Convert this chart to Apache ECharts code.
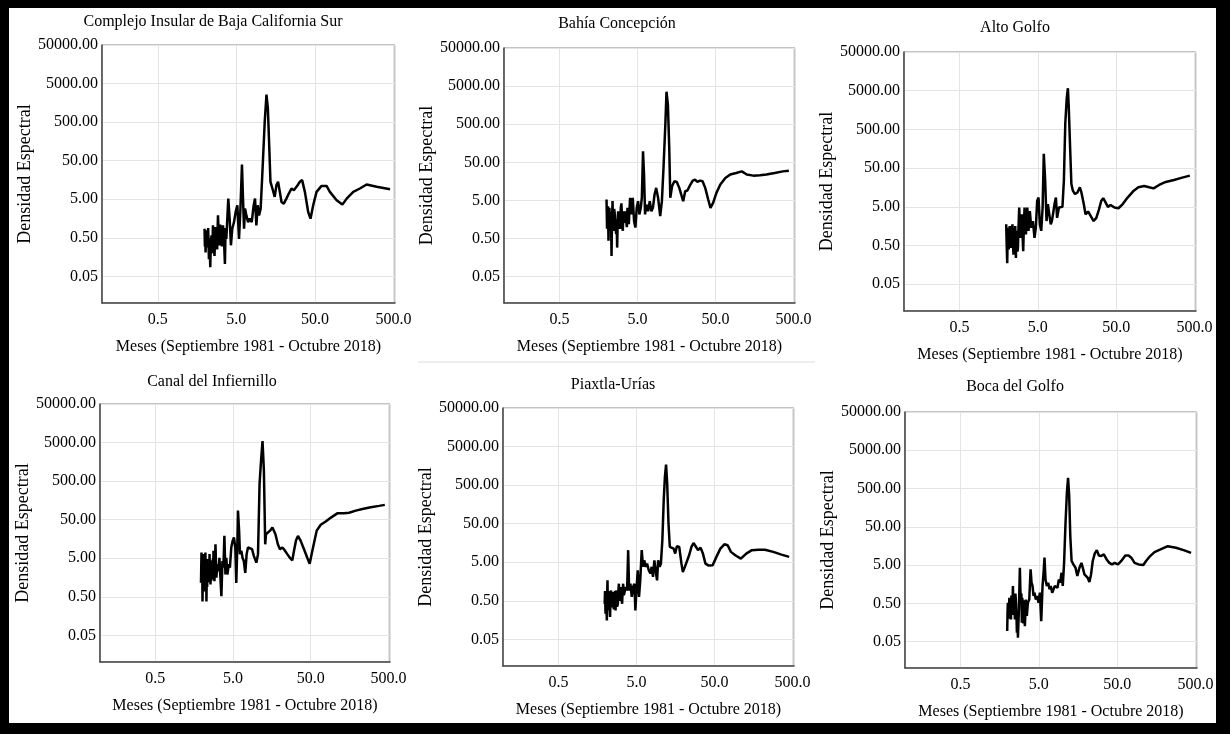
<!DOCTYPE html>
<html>
<head>
<meta charset="utf-8">
<script src="https://cdn.jsdelivr.net/npm/echarts@6/dist/echarts.min.js"></script>
<style>
  html, body { margin: 0; padding: 0; background: #fff; }
  #chart { width: 1230px; height: 734px; }
</style>
</head>
<body>
<div id="chart"></div>
<script>
var complejoMeses = [1.97, 1.99, 2.01, 2.03, 2.06, 2.085, 2.11, 2.15, 2.19, 2.24, 2.28, 2.33, 2.37, 2.42, 2.47, 2.52, 2.58, 2.64, 2.70, 2.78, 2.85, 2.92, 2.99, 3.06, 3.12, 3.18, 3.28, 3.38, 3.48, 3.58, 3.65, 3.73, 3.95, 4.11, 4.27, 4.44, 4.67, 4.90, 5.15, 5.41, 5.62, 5.9, 6.08, 6.27, 6.45, 6.71, 7.05, 7.4, 7.85, 8.32, 8.65, 9.0, 9.36, 9.73, 10.2, 10.7, 11.5, 12.1, 12.6, 13.1, 13.6, 14.4, 15.4, 16.2, 17.0, 17.9, 18.8, 20.1, 21.7, 23.3, 25.2, 27.0, 29.2, 32.2, 34.4, 37.3, 41.1, 44, 47.6, 52.5, 60.8, 70.4, 77.6, 94.6, 112, 127, 154, 187, 228, 306, 453];
var complejoDens = [0.86, 0.3, 0.7, 0.21, 0.62, 0.28, 0.78, 0.33, 0.9, 0.14, 0.5, 0.086, 0.4, 0.58, 0.2, 1.05, 0.3, 0.17, 0.95, 0.47, 0.25, 1.91, 0.6, 0.32, 1.1, 0.58, 0.3, 1.05, 0.45, 0.105, 0.9, 0.47, 5.2, 1.57, 0.32, 0.86, 1.28, 2.34, 3.5, 0.47, 2.34, 40, 5.2, 0.86, 2.86, 1.91, 1.28, 1.57, 1.28, 3.5, 5.2, 1.05, 3.5, 1.91, 2.86, 21, 520, 2580, 1160, 128, 14.2, 9.5, 5.75, 11.6, 14.2, 7.76, 4.26, 3.85, 5.2, 7.03, 9.5, 8.6, 10.5, 14.2, 15.7, 7.76, 2.34, 1.57, 3.5, 7.76, 11.1, 11.1, 7.76, 4.7, 3.63, 5.2, 7.76, 9.5, 12.1, 10.5, 9.1];

var bahiaMeses = [2.01, 2.04, 2.07, 2.10, 2.13, 2.16, 2.19, 2.22, 2.26, 2.29, 2.33, 2.36, 2.40, 2.43, 2.47, 2.52, 2.57, 2.62, 2.67, 2.71, 2.75, 2.79, 2.83, 2.88, 2.94, 3.0, 3.06, 3.12, 3.19, 3.25, 3.31, 3.38, 3.45, 3.52, 3.59, 3.66, 3.73, 3.88, 4.03, 4.19, 4.36, 4.53, 4.71, 4.90, 5.1, 5.3, 5.52, 5.7, 5.9, 6.08, 6.27, 6.5, 6.85, 7.2, 7.55, 7.9, 8.3, 8.7, 9.2, 9.8, 10.3, 10.8, 11.4, 11.8, 12.3, 12.8, 13.2, 13.9, 14.9, 16.0, 17.2, 18.2, 19.3, 20.5, 21.9, 23.7, 25.6, 27.4, 29.3, 31.7, 34.2, 37.0, 40.4, 43.2, 46.7, 51.5, 57.8, 67, 77.5, 92, 109, 126, 153, 186, 225, 287, 366, 437];
var bahiaDens = [5.3, 0.9, 1.45, 3.5, 0.44, 1.8, 3.2, 1.0, 0.79, 2.5, 0.175, 1.2, 4.8, 1.5, 0.79, 3.0, 2.15, 1.0, 0.65, 1.6, 0.29, 1.2, 2.6, 1.0, 1.45, 0.9, 3.2, 4.2, 1.2, 0.8, 2.6, 1.3, 1.77, 2.6, 1.45, 1.0, 3.2, 1.2, 5.9, 2.15, 5.9, 1.45, 0.97, 3.2, 4.8, 2.15, 3.2, 5.9, 97, 24, 2.15, 3.9, 2.6, 4.8, 2.6, 3.2, 7.2, 10.7, 5.9, 1.95, 4.8, 35.5, 480, 3560, 1600, 118, 5.9, 11.8, 16, 15.3, 10.7, 7.2, 4.8, 8.7, 9.1, 12.7, 16.6, 17.5, 15.3, 16.6, 16, 10.7, 5.3, 3.2, 4.3, 7.9, 13.1, 19.5, 24, 26.3, 29, 24, 22.4, 23, 24, 26.3, 29, 30.3];

var altoMeses = [1.97, 2.00, 2.03, 2.06, 2.09, 2.12, 2.15, 2.18, 2.21, 2.24, 2.28, 2.32, 2.37, 2.40, 2.44, 2.48, 2.52, 2.57, 2.62, 2.66, 2.70, 2.74, 2.78, 2.83, 2.89, 2.95, 3.0, 3.06, 3.12, 3.18, 3.25, 3.31, 3.38, 3.45, 3.52, 3.59, 3.66, 3.8, 3.95, 4.11, 4.32, 4.53, 4.71, 4.90, 5.1, 5.3, 5.52, 5.75, 5.95, 6.2, 6.45, 6.71, 7.0, 7.3, 7.55, 7.8, 8.16, 8.5, 8.8, 9.3, 9.8, 10.3, 10.75, 11.2, 11.7, 12.1, 12.4, 12.9, 13.4, 14.0, 14.9, 16.0, 17.2, 18.0, 19.3, 20.3, 21.9, 23.7, 25.8, 27.9, 30.2, 32.3, 34.2, 36.6, 39.2, 42.4, 47.6, 53.5, 60.7, 70, 84, 96, 114, 132, 150, 177, 215, 274, 349, 437];
var altoDens = [1.77, 0.5, 0.175, 1.1, 1.45, 0.4, 0.65, 1.6, 1.45, 0.5, 0.44, 1.3, 1.77, 0.6, 0.29, 1.0, 0.79, 1.6, 0.24, 1.2, 0.97, 0.35, 0.44, 1.5, 4.8, 1.2, 0.79, 1.6, 3.2, 1.0, 0.36, 1.5, 4.8, 1.5, 0.97, 2.0, 4.8, 1.2, 3.9, 1.45, 2.15, 0.79, 1.45, 7.2, 8.7, 1.77, 1.2, 4.8, 118, 24, 2.15, 5.9, 3.2, 1.77, 2.15, 3.2, 5.9, 8.7, 2.6, 4.8, 4.3, 5.0, 24, 720, 3260, 5800, 1950, 178, 19.5, 13.1, 10.7, 11.8, 16, 11.8, 5.9, 3.2, 3.8, 2.9, 2.15, 2.6, 4.3, 7.2, 8.4, 6.5, 5.0, 5.6, 4.8, 4.6, 5.9, 8.7, 13.1, 16, 17.3, 16, 15, 18.4, 22, 24.8, 28.5, 32];

var canalMeses = [1.94, 1.97, 1.99, 2.01, 2.03, 2.05, 2.07, 2.09, 2.11, 2.13, 2.15, 2.17, 2.19, 2.21, 2.24, 2.26, 2.28, 2.31, 2.33, 2.35, 2.38, 2.40, 2.42, 2.45, 2.47, 2.50, 2.53, 2.55, 2.57, 2.61, 2.63, 2.65, 2.69, 2.71, 2.73, 2.77, 2.79, 2.81, 2.89, 2.98, 3.06, 3.15, 3.25, 3.35, 3.45, 3.55, 3.66, 3.77, 3.88, 4.0, 4.11, 4.24, 4.42, 4.57, 4.76, 4.95, 5.15, 5.36, 5.52, 5.7, 5.8, 6.0, 6.15, 6.4, 6.65, 6.9, 7.2, 7.5, 7.8, 8.25, 8.8, 9.3, 10.0, 10.5, 11.0, 11.5, 12.0, 12.5, 13.0, 13.3, 13.8, 15.0, 16.1, 16.8, 17.6, 18.9, 20.1, 21.6, 23.1, 25.0, 27.1, 29.0, 30.5, 32.4, 34.3, 37.2, 41, 45.3, 48.5, 52.5, 59.7, 67.3, 78, 92, 110, 134, 156, 190, 231, 296, 379, 449];
var canalDens = [1.15, 7.0, 1.2, 3.5, 0.38, 2.8, 0.9, 6.4, 1.5, 4.0, 0.69, 3.0, 1.1, 7.0, 1.6, 3.8, 0.38, 2.6, 0.9, 4.8, 1.3, 3.2, 1.56, 4.0, 1.2, 6.4, 2.0, 4.5, 1.04, 3.0, 1.3, 4.25, 1.4, 3.6, 1.9, 5.0, 2.0, 7.8, 1.27, 11.5, 1.56, 3.5, 2.3, 5.1, 1.56, 0.52, 4.25, 2.85, 19, 1.9, 5.1, 1.9, 3.5, 2.85, 9.5, 14.1, 17.3, 9.5, 1.15, 11.5, 86, 26, 6.4, 7.8, 5.1, 4.25, 2.1, 6.4, 9.5, 10.5, 8.6, 5.7, 3.85, 6.4, 430, 1740, 5500, 950, 11.5, 21, 19, 26, 31.5, 35, 21, 11.5, 8.6, 9.5, 8.1, 6.4, 5.1, 4.4, 7.8, 14.7, 19, 14.1, 8.6, 5.1, 3.6, 7.8, 26, 37, 45, 57.5, 73, 73, 76, 86, 95, 105, 114, 121];

var piaxtlaMeses = [1.96, 1.98, 2.01, 2.03, 2.05, 2.07, 2.09, 2.11, 2.13, 2.15, 2.17, 2.20, 2.24, 2.27, 2.30, 2.33, 2.37, 2.40, 2.44, 2.48, 2.52, 2.57, 2.62, 2.66, 2.70, 2.74, 2.78, 2.83, 2.89, 2.93, 2.98, 3.03, 3.09, 3.14, 3.19, 3.23, 3.28, 3.33, 3.38, 3.45, 3.52, 3.66, 3.8, 3.92, 4.03, 4.19, 4.36, 4.53, 4.71, 4.85, 5.0, 5.2, 5.4, 5.6, 5.85, 6.08, 6.3, 6.6, 6.85, 7.2, 7.55, 7.85, 8.16, 8.5, 8.8, 9.2, 9.5, 9.9, 10.3, 10.75, 11.2, 11.6, 12.0, 12.4, 12.9, 13.4, 14.1, 15.0, 15.7, 16.5, 17.7, 18.9, 19.7, 20.9, 22.1, 23.7, 25.4, 27.0, 28.7, 30.8, 33.2, 35.6, 38.4, 42.3, 47.5, 53, 59.6, 67, 73.9, 81.4, 92.5, 109, 128, 151, 183, 222, 284, 362, 454];
var piaxtlaDens = [0.42, 0.9, 0.23, 0.55, 0.68, 0.3, 0.155, 0.8, 1.7, 0.45, 0.28, 0.9, 0.63, 0.35, 0.19, 0.7, 0.93, 0.45, 0.34, 0.85, 0.51, 0.3, 0.63, 0.9, 0.28, 0.6, 0.93, 0.35, 0.42, 0.8, 1.39, 0.5, 0.51, 0.95, 1.14, 0.55, 0.42, 0.9, 1.39, 0.7, 0.63, 1.14, 0.93, 10.3, 0.93, 1.39, 0.63, 1.14, 1.39, 0.28, 0.93, 3.1, 0.63, 1.7, 10.3, 3.8, 5.6, 3.8, 4.6, 3.1, 2.55, 3.8, 2.1, 5.6, 3.1, 1.7, 5.6, 3.8, 4.6, 18.5, 205, 830, 1700, 560, 50, 12.5, 12.5, 11.3, 8.4, 13, 12.5, 4.6, 2.8, 3.8, 4.2, 7.6, 12.5, 15.8, 13, 10.3, 12, 8.4, 4.6, 4.1, 4.2, 6.9, 11.3, 14.6, 13.8, 9.3, 7.6, 6.2, 8.4, 10.3, 10.6, 10.6, 9.3, 7.9, 6.9];

var bocaMeses = [1.97, 1.99, 2.01, 2.04, 2.07, 2.10, 2.13, 2.16, 2.2, 2.23, 2.26, 2.29, 2.33, 2.36, 2.4, 2.43, 2.47, 2.51, 2.55, 2.58, 2.62, 2.66, 2.7, 2.78, 2.86, 2.90, 2.95, 2.99, 3.03, 3.07, 3.12, 3.17, 3.22, 3.26, 3.31, 3.36, 3.41, 3.46, 3.51, 3.62, 3.77, 3.92, 4.03, 4.15, 4.27, 4.4, 4.57, 4.76, 4.95, 5.15, 5.36, 5.57, 5.74, 5.9, 6.08, 6.32, 6.58, 6.85, 7.1, 7.4, 7.7, 8.0, 8.33, 8.65, 9.0, 9.36, 9.74, 10.1, 10.5, 10.95, 11.4, 11.8, 12.2, 12.6, 13.1, 13.8, 14.7, 15.5, 16.5, 17.5, 18.2, 19.1, 20.0, 21.1, 22.1, 23.2, 24.4, 25.9, 27.5, 29.2, 31.2, 33.8, 36.7, 39.7, 43.0, 46.5, 51.3, 56.5, 63.6, 70, 75.8, 83.5, 94, 108, 117, 132, 150, 179, 222, 282, 361, 440];
var bocaDens = [0.095, 0.3, 0.52, 0.2, 0.29, 0.7, 0.52, 0.25, 0.19, 0.8, 0.43, 0.25, 1.42, 0.5, 0.29, 0.8, 0.19, 0.9, 0.52, 0.3, 0.085, 0.25, 0.063, 0.35, 4.25, 1.2, 0.52, 0.9, 0.155, 0.7, 0.43, 0.15, 0.29, 0.6, 0.127, 0.25, 0.63, 0.7, 0.235, 0.52, 0.63, 3.85, 1.73, 1.42, 0.78, 0.95, 0.63, 0.78, 0.52, 0.95, 0.17, 1.42, 3.15, 7.8, 2.1, 1.42, 1.73, 1.16, 1.42, 0.95, 1.16, 1.42, 1.56, 1.28, 2.1, 1.73, 3.15, 1.42, 5.7, 63, 385, 950, 320, 28.5, 6.4, 5.2, 4.25, 2.6, 4.25, 5.7, 4.25, 2.85, 2.6, 2.3, 1.8, 2.85, 6.4, 10.1, 12.3, 8.9, 8.6, 9.5, 7.0, 5.7, 5.2, 5.7, 5.2, 6.4, 8.9, 8.9, 7.8, 5.7, 5.2, 5.0, 6.4, 8.6, 10.9, 12.8, 15.6, 14.2, 12.1, 10.4];

var titulos = ['Complejo Insular de Baja California Sur', 'Bahía Concepción', 'Alto Golfo',
               'Canal del Infiernillo', 'Piaxtla-Urías', 'Boca del Golfo'];
var etiquetasX = ['0.5', '5.0', '50.0', '500.0'];
var etiquetasY = ['0.05', '0.50', '5.00', '50.00', '500.00', '5000.00', '50000.00'];
var nombreX = 'Meses (Septiembre 1981 - Octubre 2018)';
var nombreY = 'Densidad Espectral';

var paneles = [
    {meses: complejoMeses, dens: complejoDens, grid: [102, 45, 293, 258], tx: 213, ty: 14},
    {meses: bahiaMeses, dens: bahiaDens, grid: [504, 48, 291, 255], tx: 617, ty: 16},
    {meses: altoMeses, dens: altoDens, grid: [904, 52, 292, 259], tx: 1015, ty: 20},
    {meses: canalMeses, dens: canalDens, grid: [100, 404, 290, 258], tx: 212, ty: 374},
    {meses: piaxtlaMeses, dens: piaxtlaDens, grid: [503, 408, 291, 258], tx: 613, ty: 377},
    {meses: bocaMeses, dens: bocaDens, grid: [905, 412, 292, 256], tx: 1015, ty: 379}
];

var fuente = "'Liberation Serif', 'Times New Roman', serif";

// ejes logaritmicos: se grafica log10(x/0.5) y log10(y/5) para que las marcas caigan en 0.5, 5, 50 ...
function etiqueta(lista, desfase) {
    return function (v) {
        var r = Math.round(v);
        if (Math.abs(v - r) > 1e-6) return '';
        return lista[r + desfase] || '';
    };
}

var option = {
    animation: false,
    backgroundColor: '#fff',
    title: [],
    grid: [],
    xAxis: [],
    yAxis: [],
    series: [],
    graphic: [
        {type: 'rect', shape: {x: 0, y: 0, width: 1230, height: 8}, style: {fill: '#000'}},
        {type: 'rect', shape: {x: 0, y: 0, width: 9, height: 734}, style: {fill: '#000'}},
        {type: 'rect', shape: {x: 1216, y: 0, width: 14, height: 734}, style: {fill: '#000'}},
        {type: 'rect', shape: {x: 0, y: 723, width: 1230, height: 11}, style: {fill: '#000'}},
        {type: 'line', shape: {x1: 418, y1: 362, x2: 815, y2: 362}, style: {stroke: '#dddddd', lineWidth: 1}}
    ]
};

paneles.forEach(function (p, i) {
    option.title.push({
        text: titulos[i], left: p.tx, top: p.ty, textAlign: 'center', padding: 0,
        textStyle: {fontFamily: fuente, fontSize: 16, fontWeight: 'normal', color: '#000'}
    });
    option.grid.push({
        left: p.grid[0], top: p.grid[1], width: p.grid[2], height: p.grid[3],
        show: true, borderColor: '#888', borderWidth: 1, containLabel: false, outerBoundsMode: 'none'
    });
    option.xAxis.push({
        gridIndex: i, type: 'value', min: -0.71, max: 3.02, splitNumber: 4,
        axisLine: {show: true, onZero: false, lineStyle: {color: '#444', width: 1.5}},
        axisTick: {show: false},
        axisLabel: {showMinLabel: false, showMaxLabel: false, margin: 9, formatter: etiqueta(etiquetasX, 0),
                    fontFamily: fuente, fontSize: 16, color: '#000'},
        splitLine: {show: true, lineStyle: {color: '#e4e4e4', width: 1}},
        name: nombreX, nameLocation: 'middle', nameGap: 36,
        nameTextStyle: {fontFamily: fuente, fontSize: 16, color: '#000'}
    });
    option.yAxis.push({
        gridIndex: i, type: 'value', min: -2.69, max: 4, splitNumber: 7,
        axisLine: {show: true, onZero: false, lineStyle: {color: '#444', width: 1.5}},
        axisTick: {show: false},
        axisLabel: {showMinLabel: false, margin: 4, formatter: etiqueta(etiquetasY, 2),
                    fontFamily: fuente, fontSize: 16, color: '#000'},
        splitLine: {show: true, lineStyle: {color: '#e4e4e4', width: 1}},
        name: nombreY, nameLocation: 'middle', nameGap: 67,
        nameTextStyle: {fontFamily: fuente, fontSize: 18, color: '#000'}
    });
    option.series.push({
        type: 'line', xAxisIndex: i, yAxisIndex: i, symbol: 'none', smooth: false,
        lineStyle: {color: '#000', width: 2.5},
        data: p.meses.map(function (m, k) {
            return [Math.log10(m / 0.5), Math.log10(p.dens[k] / 5)];
        })
    });
});

var myChart = echarts.init(document.getElementById('chart'));
myChart.setOption(option);
</script>
</body>
</html>
